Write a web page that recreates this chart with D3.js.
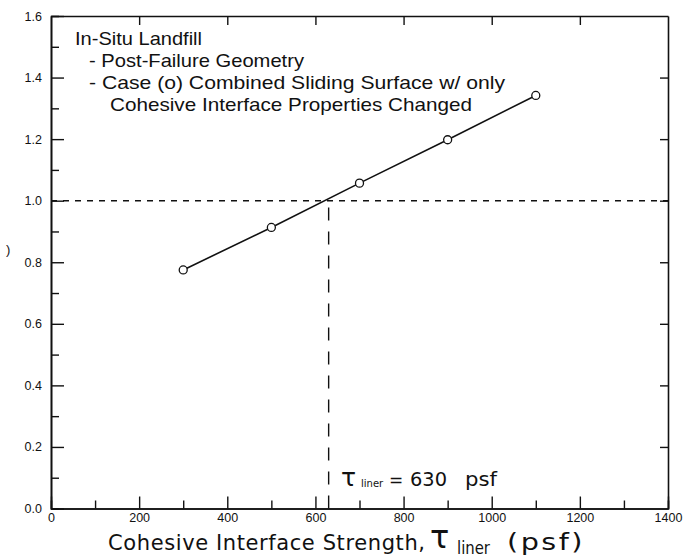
<!DOCTYPE html>
<html>
<head>
<meta charset="utf-8">
<script src="https://cdn.jsdelivr.net/npm/d3@7"></script>
<style>
  html, body { margin: 0; padding: 0; background: #fff; }
  svg { display: block; }
</style>
</head>
<body>
<svg id="chart" width="684" height="558"></svg>
<script>
// ---- data ----
const cohesion = [300, 500, 700, 900, 1100];          // psf
const factorOfSafety = [0.775, 0.913, 1.057, 1.198, 1.342];
const xMajorTicks = [0, 200, 400, 600, 800, 1000, 1200, 1400];
const xMinorTicks = [100, 300, 500, 700, 900, 1100, 1300];
const yMajorTicks = [0.0, 0.2, 0.4, 0.6, 0.8, 1.0, 1.2, 1.4, 1.6];
const yMinorTicks = [0.1, 0.3, 0.5, 0.7, 0.9, 1.1, 1.3, 1.5];
const criticalTau = 630;
const criticalFS = 1.0;
const noteLines = [
  "In-Situ Landfill",
  "- Post-Failure Geometry",
  "- Case (o) Combined Sliding Surface w/ only",
  "Cohesive Interface Properties Changed"
];

const svg = d3.select("#chart");
const L = 51, R = 668, T = 16, B = 508.5;
const x = d3.scaleLinear().domain([0, 1400]).range([L, R]);
const y = d3.scaleLinear().domain([0, 1.6]).range([B, T]);
const tickFont = "'Liberation Sans', Arial, sans-serif";
const titleFont = "'DejaVu Sans', sans-serif";

function styleAxis(g) {
  g.selectAll("path.domain").attr("stroke", "#111").attr("stroke-width", 1.6);
  g.selectAll(".tick line").attr("stroke", "#111").attr("stroke-width", 1.4);
  g.selectAll(".tick text").attr("fill", "#111").style("font-family", tickFont).style("font-size", "12.5px");
}

// minor ticks
svg.append("g").attr("transform", `translate(0,${B})`)
  .call(d3.axisBottom(x).tickValues(xMinorTicks).tickSize(-8).tickFormat(""))
  .call(styleAxis);
svg.append("g").attr("transform", `translate(${L},0)`)
  .call(d3.axisLeft(y).tickValues(yMinorTicks).tickSize(-8).tickFormat(""))
  .call(styleAxis);
// major ticks
svg.append("g").attr("transform", `translate(0,${B})`)
  .call(d3.axisBottom(x).tickValues(xMajorTicks).tickSizeInner(-12).tickSizeOuter(0).tickPadding(5).tickFormat(d3.format("d")))
  .call(styleAxis);
svg.append("g").attr("transform", `translate(${L},0)`)
  .call(d3.axisLeft(y).tickValues(yMajorTicks).tickSizeInner(-13).tickSizeOuter(0).tickPadding(9).tickFormat(d3.format(".1f")))
  .call(styleAxis);
svg.append("g").attr("transform", `translate(0,${T})`)
  .call(d3.axisTop(x).tickValues(xMajorTicks.slice(1, -1)).tickSizeInner(-9).tickSizeOuter(0).tickFormat(""))
  .call(styleAxis);
svg.append("g").attr("transform", `translate(${R},0)`)
  .call(d3.axisRight(y).tickValues(yMajorTicks.slice(1, -1)).tickSizeInner(-8).tickSizeOuter(0).tickFormat(""))
  .call(styleAxis);

// reference dashed lines
svg.append("line")
  .attr("x1", x(0)).attr("x2", x(1400)).attr("y1", y(criticalFS)).attr("y2", y(criticalFS))
  .attr("stroke", "#111").attr("stroke-width", 1.5).attr("stroke-dasharray", "6,6");
svg.append("line")
  .attr("x1", x(criticalTau)).attr("x2", x(criticalTau)).attr("y1", y(0)).attr("y2", y(criticalFS))
  .attr("stroke", "#111").attr("stroke-width", 1.4).attr("stroke-dasharray", "13,11");

// data line + markers
const pts = cohesion.map((c, i) => [c, factorOfSafety[i]]);
svg.append("path").datum(pts)
  .attr("fill", "none").attr("stroke", "#111").attr("stroke-width", 1.6)
  .attr("d", d3.line().x(d => x(d[0])).y(d => y(d[1])));
svg.selectAll("circle.pt").data(pts).enter().append("circle")
  .attr("class", "pt")
  .attr("cx", d => x(d[0])).attr("cy", d => y(d[1])).attr("r", 4)
  .attr("fill", "#fff").attr("stroke", "#111").attr("stroke-width", 1.3);

// note text block
const noteFont = "'Liberation Sans', Arial, sans-serif";
const noteX = [75, 89, 89, 110];
const noteY = [45, 67, 89, 111];
const noteW = [127, 215, 416, 362];
noteLines.forEach((t, i) => {
  svg.append("text").attr("x", noteX[i]).attr("y", noteY[i])
    .attr("textLength", noteW[i]).attr("lengthAdjust", "spacingAndGlyphs")
    .style("font-family", noteFont).style("font-size", "18.5px").attr("fill", "#111")
    .text(t);
});

// annotation tau_liner = 630 psf
const annY = 486;
svg.append("text").attr("x", 341).attr("y", annY)
  .style("font-family", titleFont).style("font-size", "25px").attr("fill", "#111").text("τ");
svg.append("text").attr("x", 361).attr("y", annY + 1)
  .style("font-family", titleFont).style("font-size", "10px").attr("fill", "#111").text("liner");
svg.append("text").attr("x", 389).attr("y", annY)
  .style("font-family", titleFont).style("font-size", "17px").attr("fill", "#111").text("=");
svg.append("text").attr("x", 410).attr("y", annY)
  .attr("textLength", 37).attr("lengthAdjust", "spacingAndGlyphs")
  .style("font-family", titleFont).style("font-size", "19px").attr("fill", "#111").text(String(criticalTau));
svg.append("text").attr("x", 465).attr("y", annY)
  .attr("textLength", 32).attr("lengthAdjust", "spacingAndGlyphs")
  .style("font-family", titleFont).style("font-size", "19px").attr("fill", "#111").text("psf");

// x-axis title
svg.append("text").attr("x", 108).attr("y", 550)
  .attr("textLength", 317).attr("lengthAdjust", "spacing")
  .style("font-family", titleFont).style("font-size", "21px").attr("fill", "#111")
  .text("Cohesive Interface Strength,");
svg.append("text").attr("x", 430).attr("y", 548)
  .style("font-family", titleFont).style("font-size", "32px").attr("fill", "#111")
  .text("τ");
svg.append("text").attr("x", 457).attr("y", 554)
  .attr("textLength", 33).attr("lengthAdjust", "spacingAndGlyphs")
  .style("font-family", titleFont).style("font-size", "17px").attr("fill", "#111")
  .text("liner");
svg.append("text").attr("x", 507).attr("y", 550)
  .attr("textLength", 78).attr("lengthAdjust", "spacingAndGlyphs")
  .style("font-family", titleFont).style("font-size", "23px").attr("fill", "#111")
  .style("letter-spacing", "2px")
  .text("(psf)");

// remnant of the cropped y-axis title
svg.append("text").attr("x", 6).attr("y", 254)
  .style("font-family", tickFont).style("font-size", "13px").attr("fill", "#111").text(")");
</script>
</body>
</html>
